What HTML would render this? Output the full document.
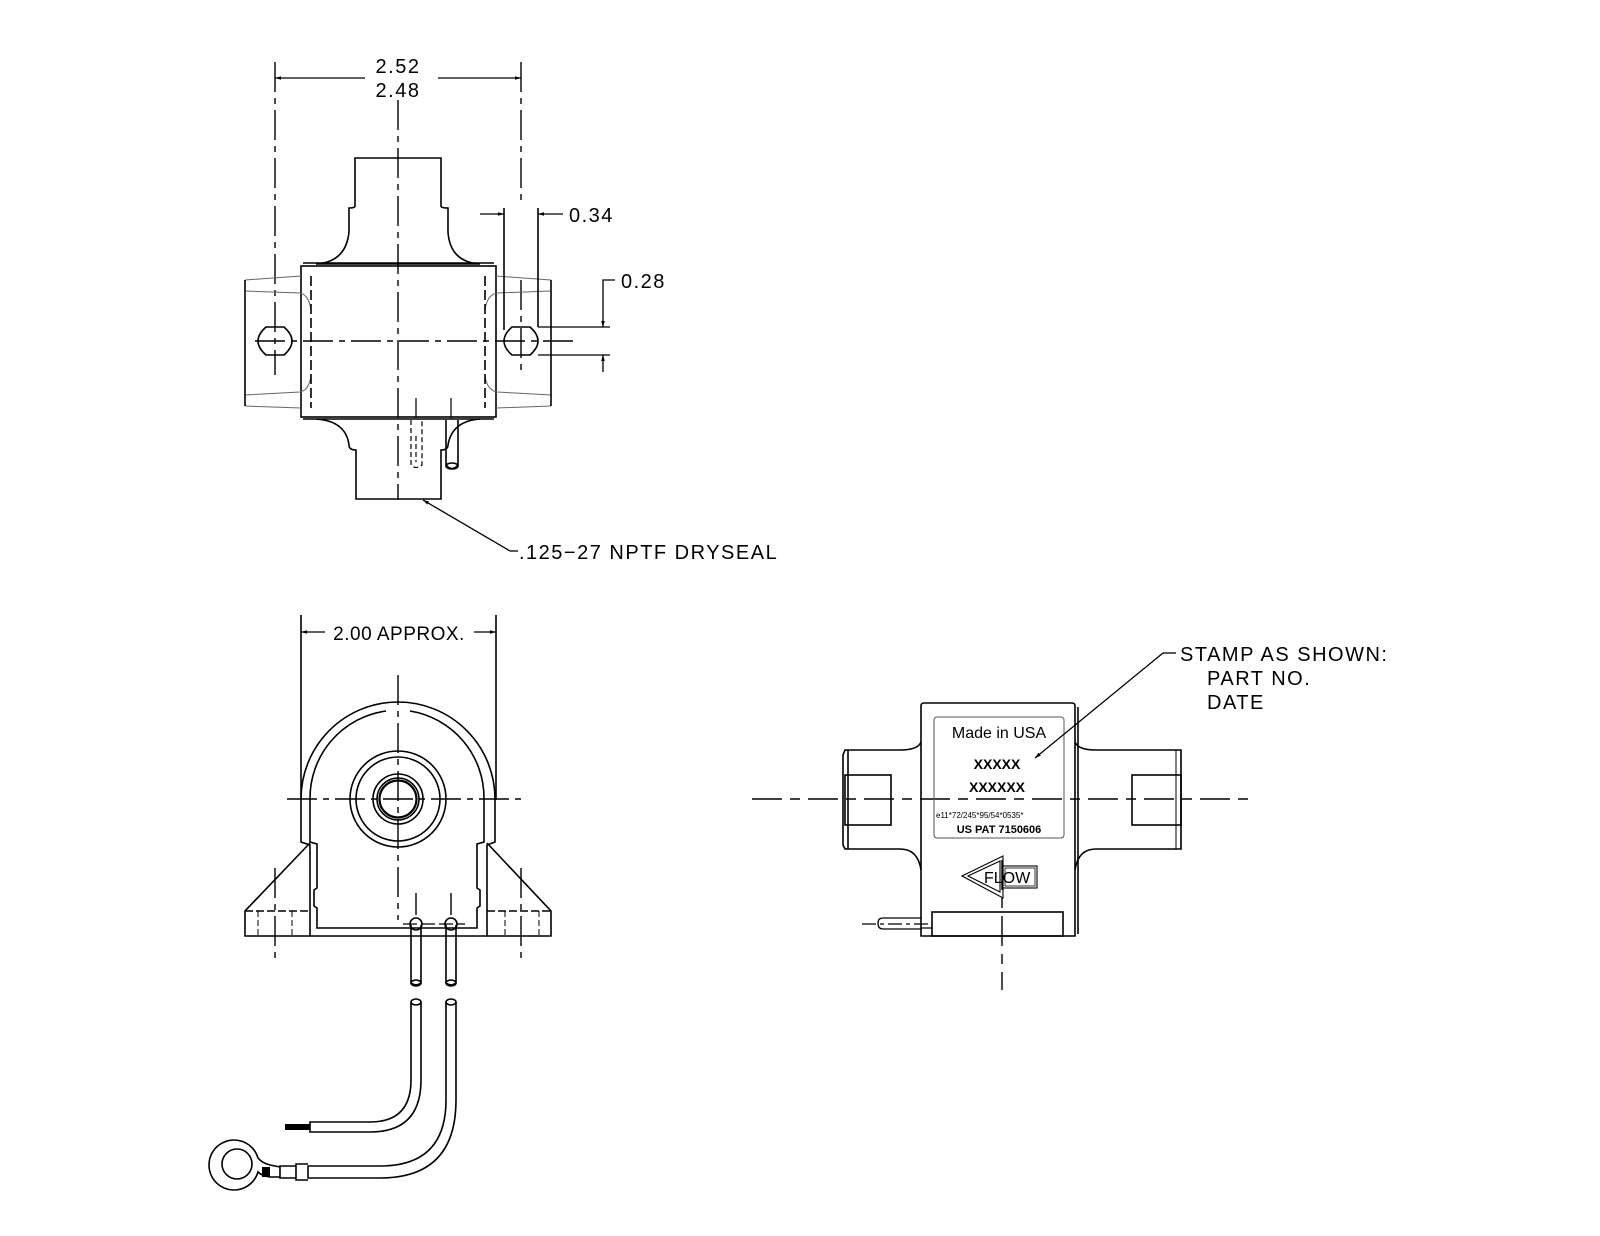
<!DOCTYPE html>
<html><head><meta charset="utf-8"><style>
html,body{margin:0;padding:0;background:#fff}
svg{display:block}
text{font-family:"Liberation Sans",sans-serif;fill:#000}
.t{font-size:20px;letter-spacing:1.5px}
</style></head><body>
<svg width="1600" height="1236" viewBox="0 0 1600 1236" xmlns="http://www.w3.org/2000/svg">
<defs>
<marker id="a" viewBox="0 0 10 10" refX="10" refY="5" markerWidth="10" markerHeight="6" orient="auto-start-reverse" markerUnits="userSpaceOnUse"><path d="M0,2 L10,5 L0,8z" fill="#000"/></marker>
</defs>
<g fill="none" stroke="#000" stroke-width="1.6">
<!-- TOP VIEW -->
<g stroke-dasharray="30,6,6,6" stroke-width="1.4">
<line x1="275" y1="62" x2="275" y2="375"/>
<line x1="521" y1="62" x2="521" y2="200"/>
<line x1="521" y1="280" x2="521" y2="375"/>
<line x1="398" y1="100" x2="398" y2="500"/>
<line x1="255" y1="341" x2="575" y2="341"/>
</g>
<line x1="275" y1="78" x2="365" y2="78" marker-start="url(#a)" stroke-width="1.3"/>
<line x1="438" y1="78" x2="521" y2="78" marker-end="url(#a)" stroke-width="1.3"/>
<path d="M355,158 H441 V206 Q441,208 448,208 V232 Q450,262 480,264 H316 Q346,262 349,232 V208 Q355,208 355,206 Z"/>
<rect x="301" y="266" width="195" height="151"/>
<line x1="303" y1="263" x2="494" y2="263"/>
<line x1="303" y1="419" x2="494" y2="419"/>
<g stroke-width="1" stroke="#666">
<path d="M245,280 L301,276 M245,291 L300,293 Q309,295 311,310 M245,395 L300,392 Q309,390 311,376 M245,406 L301,408"/>
<path d="M551,280 L496,276 M551,291 L497,293 Q487,295 485,310 M551,395 L497,392 Q487,390 485,376 M551,406 L496,408"/>
</g>
<line x1="245" y1="280" x2="245" y2="406"/>
<line x1="551" y1="280" x2="551" y2="406"/>
<g stroke-dasharray="10,4"><line x1="311" y1="276" x2="311" y2="408"/><line x1="485" y1="276" x2="485" y2="408"/></g>
<path d="M266,327 H284 Q292,334 292,341 Q292,348 284,355 H266 Q258,348 258,341 Q258,334 266,327Z"/>
<path d="M512,327 H530 Q538,334 538,341 Q538,348 530,355 H512 Q504,348 504,341 Q504,334 512,327Z"/>
<line x1="504" y1="208" x2="504" y2="330"/>
<line x1="538" y1="208" x2="538" y2="327"/>
<line x1="480" y1="214" x2="504" y2="214" marker-end="url(#a)" stroke-width="1.3"/>
<line x1="563" y1="214" x2="538" y2="214" marker-end="url(#a)" stroke-width="1.3"/>
<line x1="538" y1="327" x2="610" y2="327" stroke-width="1.3"/>
<line x1="538" y1="355" x2="610" y2="355" stroke-width="1.3"/>
<path d="M615,280 H603 V327" marker-end="url(#a)" stroke-width="1.3"/>
<line x1="603" y1="372" x2="603" y2="355" marker-end="url(#a)" stroke-width="1.3"/>
<path d="M316,419 Q346,421 349,445 Q349,450 356,450 V499 H441 V450 Q448,450 448,445 Q452,421 480,419"/>
<g stroke-dasharray="5,3" stroke-width="1.2"><path d="M411,420 V465 Q416,470 422,465 V420"/><line x1="416" y1="436" x2="416" y2="462"/></g>
<path d="M446,420 V465 Q452,472 458,465 V420" />
<ellipse cx="452" cy="466" rx="6" ry="3"/>
<line x1="416" y1="398" x2="416" y2="418" stroke-width="1.2"/>
<line x1="451" y1="398" x2="451" y2="418" stroke-width="1.2"/>
<line x1="423" y1="500" x2="510" y2="551" marker-start="url(#a)" stroke-width="1.3"/>
<line x1="510" y1="551" x2="518" y2="551" stroke-width="1.3"/>

<!-- FRONT VIEW -->
<line x1="301" y1="615" x2="301" y2="800"/>
<line x1="496" y1="615" x2="496" y2="800"/>
<line x1="301" y1="632" x2="325" y2="632" marker-start="url(#a)" stroke-width="1.3"/>
<line x1="474" y1="632" x2="496" y2="632" marker-end="url(#a)" stroke-width="1.3"/>
<g stroke-dasharray="30,6,6,6" stroke-width="1.4">
<line x1="398" y1="675" x2="398" y2="920"/>
<line x1="287" y1="799" x2="525" y2="799"/>
<line x1="275" y1="868" x2="275" y2="962"/>
<line x1="521" y1="868" x2="521" y2="962"/>
<line x1="416" y1="893" x2="416" y2="915"/>
<line x1="451" y1="893" x2="451" y2="915"/>
</g>
<path d="M301,799 A97,97 0 0 1 495,799 V842 L487,845 V936 H310 V845 L301,842 Z"/>
<path d="M310,843 L245,911 V936 H310 M487,843 L551,911 V936 H487"/>
<line x1="245" y1="911" x2="310" y2="911" stroke-dasharray="8,3"/>
<line x1="487" y1="911" x2="551" y2="911" stroke-dasharray="8,3"/>
<g stroke-dasharray="6,3" stroke-width="1"><line x1="258" y1="911" x2="258" y2="936"/><line x1="292" y1="911" x2="292" y2="936"/><line x1="505" y1="911" x2="505" y2="936"/><line x1="539" y1="911" x2="539" y2="936"/></g>
<path d="M386,711 A88,88 0 0 0 310,799 V842 L317,844 V888 L314,890 V906 L317,908 V928 H477 V908 L480,906 V890 L477,888 V844 L484,842 V799 A88,88 0 0 0 410,711"/>
<circle cx="398" cy="799" r="48"/>
<circle cx="398" cy="799" r="42"/>
<circle cx="398" cy="799" r="25"/>
<circle cx="398" cy="799" r="21"/>
<circle cx="398" cy="799" r="18.5" stroke-width="2.2"/>
<line x1="403" y1="924" x2="465" y2="924" stroke-dasharray="14,4" stroke-width="1.2"/>
<circle cx="416" cy="924" r="6"/><circle cx="451" cy="924" r="6"/>
<path d="M411,925 V983 Q416,987 421,983 V925 M446,925 V983 Q451,987 456,983 V925"/>
<ellipse cx="416" cy="983" rx="5" ry="3"/><ellipse cx="451" cy="983" rx="5" ry="3"/>
<ellipse cx="416" cy="1002" rx="5" ry="3"/><ellipse cx="451" cy="1002" rx="5" ry="3"/>
<path d="M411,1002 V1080 Q411,1122 370,1122 H310 V1132 H370 Q421,1132 421,1080 V1002"/>
<path d="M446,1002 V1100 Q446,1166 380,1166 H308 V1178 H380 Q456,1178 456,1100 V1002"/>
<rect x="285" y="1124" width="25" height="6" fill="#000" stroke="none"/>
<path d="M308,1164 H296 V1180 H308 M296,1166 H280 V1178 H296 M280,1167 L270,1165 Q262,1163 258,1158 A25,25 0 1 0 258,1172 Q262,1176 270,1177 L280,1177"/>
<circle cx="237" cy="1164" r="15"/>
<rect x="262" y="1167" width="8" height="10" fill="#000" stroke="none"/>

<!-- SIDE VIEW -->
<g stroke-dasharray="30,8,10,8" stroke-width="1.4">
<line x1="752" y1="799" x2="1255" y2="799"/>
<line x1="1002" y1="860" x2="1002" y2="990"/>
</g>
<path d="M921,742 Q918,750 900,750 H845 L843,755 V845 L845,849 H900 Q918,849 921,870"/>
<line x1="848" y1="750" x2="848" y2="849"/>
<rect x="845" y="775" width="46" height="50"/>
<path d="M1075,742 Q1078,750 1096,750 H1181 V849 H1096 Q1078,849 1075,870"/>
<rect x="1132" y="775" width="49" height="50"/>
<line x1="1176" y1="750" x2="1176" y2="849" stroke-width="1"/>
<path d="M921,936 V706 Q921,703 924,703 H1072 Q1075,703 1075,706 V936 Z"/>
<line x1="1078" y1="707" x2="1078" y2="934"/>
<rect x="934" y="717" width="130" height="121" rx="3" stroke-width="1" stroke="#555"/>
<path d="M962,876 L1003,856 V898 Z M968,876 L1000,861 V892 Z" stroke-width="1.1"/>
<rect x="1003" y="866" width="34" height="22" stroke-width="1.1"/>
<rect x="1005" y="868" width="30" height="18" stroke-width="0.8"/>
<rect x="932" y="912" width="131" height="24"/>
<path d="M921,918 H883 Q878,918 878,923 Q878,929 883,929 H921 V928 H932" stroke-width="1.3"/>
<line x1="862" y1="924" x2="930" y2="924" stroke-dasharray="14,4,4,4" stroke-width="1.2"/>
<line x1="1035" y1="758" x2="1163" y2="653" marker-start="url(#a)" stroke-width="1.3"/>
<line x1="1163" y1="653" x2="1176" y2="653" stroke-width="1.3"/>
</g>
<text class="t" x="398" y="73" text-anchor="middle">2.52</text>
<text class="t" x="398" y="97" text-anchor="middle">2.48</text>
<text class="t" x="569" y="222">0.34</text>
<text class="t" x="621" y="288">0.28</text>
<text class="t" x="519" y="559">.125−27 NPTF DRYSEAL</text>
<text class="t" x="399" y="640" text-anchor="middle" style="font-size:19px;letter-spacing:0.5px">2.00 APPROX.</text>
<text class="t" x="1180" y="661">STAMP AS SHOWN:</text>
<text class="t" x="1207" y="685">PART NO.</text>
<text class="t" x="1207" y="709">DATE</text>
<text x="999" y="738" text-anchor="middle" style="font-size:16px">Made in USA</text>
<text x="997" y="769" text-anchor="middle" style="font-size:14px;font-weight:bold">XXXXX</text>
<text x="997" y="792" text-anchor="middle" style="font-size:14px;font-weight:bold">XXXXXX</text>
<text x="936" y="818" style="font-size:8px">e11*72/245*95/54*0535*</text>
<text x="999" y="833" text-anchor="middle" style="font-size:11px;font-weight:bold">US PAT 7150606</text>
<text x="984" y="883" style="font-size:16px">FLOW</text>
</svg>
</body></html>
